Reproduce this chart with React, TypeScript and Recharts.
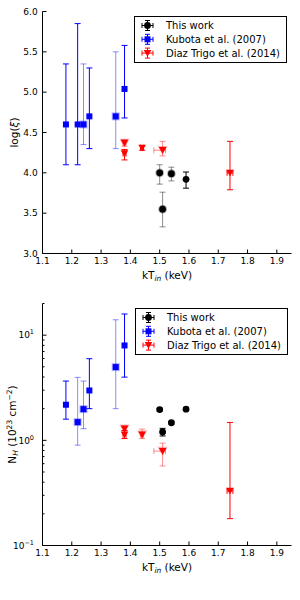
import React from 'react';
import { ScatterChart, Scatter, XAxis, YAxis, ErrorBar, Legend } from 'recharts';

// ---------------- data ----------------
const kTTicks = [1.1, 1.2, 1.3, 1.4, 1.5, 1.6, 1.7, 1.8, 1.9];
const kTDomain = [1.1, 1.95];
const logXiTicks = [3.0, 3.5, 4.0, 4.5, 5.0, 5.5, 6.0];
const logXiDomain = [3, 6];
const nhMajorTicks = [0.1, 1, 10];
const nhMinorTicks = [0.2, 0.3, 0.4, 0.5, 0.6, 0.7, 0.8, 0.9, 2, 3, 4, 5, 6, 7, 8, 9, 20];
const nhDomain = [0.1, 20];

const seriesNames = ['This work', 'Kubota et al. (2007)', 'Diaz Trigo et al. (2014)'];

const thisWorkKT = [1.50, 1.51, 1.54, 1.59];
const thisWorkLogXi = [4.00, 3.55, 3.99, 3.92];
const thisWorkLogXiLow = [3.86, 3.33, 3.90, 3.81];
const thisWorkLogXiHigh = [4.10, 3.76, 4.07, 4.01];
const thisWorkNH = [1.96, 1.20, 1.47, 1.98];
const thisWorkNHLow = [1.90, 1.10, 1.43, 1.93];
const thisWorkNHHigh = [2.02, 1.30, 1.51, 2.03];

const kubotaKT = [1.18, 1.22, 1.24, 1.26, 1.35, 1.38];
const kubotaLogXi = [4.60, 4.60, 4.60, 4.70, 4.70, 5.04];
const kubotaLogXiLow = [4.10, 4.10, 4.35, 4.30, 4.30, 4.68];
const kubotaLogXiHigh = [5.35, 5.85, 5.35, 5.30, 5.50, 5.58];
const kubotaNH = [2.18, 1.49, 1.98, 2.98, 4.97, 7.98];
const kubotaNHLow = [1.59, 0.90, 1.29, 2.00, 2.00, 3.99];
const kubotaNHHigh = [3.66, 3.97, 3.66, 5.97, 14.0, 15.9];

const diazKT = [1.38, 1.38, 1.44, 1.51, 1.74];
const diazKTLow = [1.375, 1.375, 1.435, 1.48, 1.73];
const diazKTHigh = [1.385, 1.385, 1.445, 1.52, 1.75];
const diazLogXi = [4.37, 4.24, 4.31, 4.28, 4.00];
const diazLogXiLow = [4.33, 4.16, 4.28, 4.21, 3.79];
const diazLogXiHigh = [4.41, 4.29, 4.34, 4.39, 4.39];
const diazNH = [1.29, 1.13, 1.13, 0.79, 0.33];
const diazNHLow = [1.24, 1.04, 1.04, 0.57, 0.18];
const diazNHHigh = [1.34, 1.24, 1.28, 0.94, 1.48];

// ---------------- styles ----------------
const FONT = 'DejaVu Sans, sans-serif';
const COLORS = { thisWork: '#000000', kubota: '#0000ff', diaz: '#ff0000' };
const FADED = {
  top: { thisWork: [0, 1, 2], kubota: [2, 4], diaz: [0, 3] },
  bottom: { thisWork: [] as number[], kubota: [1, 2, 4], diaz: [0, 2, 3] },
};
const SPINE = '#000';

type Pt = { x: number; y: number; ey: number[]; ex: number[] };

function buildPoints(xs: number[], ys: number[], yLo: number[], yHi: number[], xLo?: number[], xHi?: number[]): Pt[] {
  return xs.map((x, i) => ({
    x,
    y: ys[i],
    ey: [ys[i] - yLo[i], yHi[i] - ys[i]],
    ex: xLo && xHi ? [x - xLo[i], xHi[i] - x] : [0, 0],
  }));
}

type Kind = 'circle' | 'square' | 'tri';

function Marker({ kind, cx, cy, color, halo }: { kind: Kind; cx: number; cy: number; color: string; halo: boolean }) {
  if (cx == null || cy == null) return null;
  if (kind === 'circle') {
    return (
      <g>
        {halo && <circle cx={cx} cy={cy} r={4.4} fill={color} opacity={0.3} />}
        <circle cx={cx} cy={cy} r={3.4} fill={color} />
      </g>
    );
  }
  if (kind === 'square') {
    return (
      <g>
        {halo && <rect x={cx - 4} y={cy - 4} width={8} height={8} fill={color} opacity={0.3} />}
        <rect x={cx - 3} y={cy - 3} width={6} height={6} fill={color} />
      </g>
    );
  }
  const tri = (s: number) => `${cx - 3.8 * s},${cy - 3.2 * s} ${cx + 3.8 * s},${cy - 3.2 * s} ${cx},${cy + 3.6 * s}`;
  return (
    <g>
      {halo && <polygon points={tri(1.35)} fill={color} opacity={0.3} />}
      <polygon points={tri(1)} fill={color} />
    </g>
  );
}

const shapeFor = (kind: Kind, color: string, halo: boolean) => (p: any) => (
  <Marker kind={kind} cx={p.cx} cy={p.cy} color={color} halo={halo} />
);

function seriesScatters(prefix: string, points: Pt[], faded: number[], kind: Kind, color: string, xErr: boolean) {
  const solid = points.filter((_, i) => !faded.includes(i));
  const fade = points.filter((_, i) => faded.includes(i));
  const parts: [string, Pt[], number][] = [
    ['faded', fade, 0.45],
    ['solid', solid, 1],
  ];
  return parts
    .filter(([, d]) => d.length > 0)
    .map(([tag, d, op]) => (
      <Scatter
        key={prefix + tag}
        name={prefix + tag}
        data={d}
        xAxisId="B"
        yAxisId="L"
        isAnimationActive={false}
        shape={shapeFor(kind, color, tag === 'faded')}
      >
        <ErrorBar dataKey="ey" direction="y" width={3} stroke={color} strokeWidth={1} strokeOpacity={op} />
        {xErr ? <ErrorBar dataKey="ex" direction="x" width={3} stroke={color} strokeWidth={1} strokeOpacity={op} /> : null}
      </Scatter>
    ));
}

function LegendIcon({ cx, cy, kind, color }: { cx: number; cy: number; kind: Kind; color: string }) {
  return (
    <g>
      <line x1={cx - 5.5} y1={cy} x2={cx + 5.5} y2={cy} stroke={color} />
      <line x1={cx - 5.5} y1={cy - 2.5} x2={cx - 5.5} y2={cy + 2.5} stroke={color} />
      <line x1={cx + 5.5} y1={cy - 2.5} x2={cx + 5.5} y2={cy + 2.5} stroke={color} />
      <line x1={cx} y1={cy - 5} x2={cx} y2={cy + 5} stroke={color} />
      <line x1={cx - 2.5} y1={cy - 5} x2={cx + 2.5} y2={cy - 5} stroke={color} />
      <line x1={cx - 2.5} y1={cy + 5} x2={cx + 2.5} y2={cy + 5} stroke={color} />
      <Marker kind={kind} cx={cx} cy={cy} color={color} halo={false} />
    </g>
  );
}

function LegendBox() {
  const kinds: Kind[] = ['circle', 'square', 'tri'];
  const colors = [COLORS.thisWork, COLORS.kubota, COLORS.diaz];
  return (
    <svg width={153} height={47} style={{ display: 'block' }}>
      <rect x={0.5} y={0.5} width={152} height={46} fill="#fff" stroke="#000" strokeWidth={1} />
      {seriesNames.map((n, i) => {
        const cy = 9.5 + i * 13.8;
        return (
          <g key={n}>
            <LegendIcon cx={13.5} cy={cy} kind={kinds[i]} color={colors[i]} />
            <text x={32} y={cy + 3.6} fontSize={10} fontFamily={FONT} fill="#000">
              {n}
            </text>
          </g>
        );
      })}
    </svg>
  );
}

const emptyTick = () => <g />;

const xLabel = (props: any) => {
  const vb = props.viewBox || {};
  const cx = vb.x + vb.width / 2;
  const y = vb.y + 25;
  return (
    <text x={cx} y={y} textAnchor="middle" fontSize={10.5} fontFamily={FONT} fill="#000">
      kT<tspan dy={2.5} fontSize={7.5} fontStyle="italic">in</tspan>
      <tspan dy={-2.5}> (keV)</tspan>
    </text>
  );
};

const logXiLabel = (props: any) => {
  const vb = props.viewBox || {};
  const cy = vb.y + vb.height / 2;
  return (
    <text x={18} y={cy} transform={`rotate(-90, 18, ${cy})`} textAnchor="middle" fontSize={10.5} fontFamily={FONT} fill="#000">
      log(<tspan fontStyle="italic">ξ</tspan>)
    </text>
  );
};

const nhLabel = (props: any) => {
  const vb = props.viewBox || {};
  const cy = vb.y + vb.height / 2;
  return (
    <text x={15.5} y={cy} transform={`rotate(-90, 15.5, ${cy})`} textAnchor="middle" fontSize={10.5} fontFamily={FONT} fill="#000">
      N<tspan dy={2.5} fontSize={7.5} fontStyle="italic">H</tspan>
      <tspan dy={-2.5}> (10</tspan>
      <tspan dy={-4} fontSize={7.5}>23</tspan>
      <tspan dy={4}> cm</tspan>
      <tspan dy={-4} fontSize={7.5}>−2</tspan>
      <tspan dy={4}>)</tspan>
    </text>
  );
};

const isMajor = (v: number) => nhMajorTicks.some((m) => Math.abs(m - v) < 1e-9);

const LogTickLeft = (props: any) => {
  const { x, y, payload } = props;
  const v = payload.value;
  const major = isMajor(v);
  const e = Math.round(Math.log10(v));
  return (
    <g>
      <line x1={x} y1={y} x2={x + (major ? 4 : 2)} y2={y} stroke="#000" strokeWidth={1} />
      {major && (
        <text x={x - 8.5} y={y + 3.3} textAnchor="end" fontSize={9} fontFamily={FONT} fill="#000">
          10<tspan dy={-4} fontSize={6.5}>{e < 0 ? '−' + Math.abs(e) : String(e)}</tspan>
        </text>
      )}
    </g>
  );
};

const LogTickRight = (props: any) => {
  const { x, y, payload } = props;
  const major = isMajor(payload.value);
  return <line x1={x} y1={y} x2={x - (major ? 4 : 2)} y2={y} stroke="#000" strokeWidth={1} />;
};

const tickStyle = { fill: '#000', fontSize: 9, fontFamily: FONT };
const fmt1 = (v: number) => v.toFixed(1);

function SharedX() {
  return null;
}

function TopChart() {
  const tw = buildPoints(thisWorkKT, thisWorkLogXi, thisWorkLogXiLow, thisWorkLogXiHigh);
  const kb = buildPoints(kubotaKT, kubotaLogXi, kubotaLogXiLow, kubotaLogXiHigh);
  const dz = buildPoints(diazKT, diazLogXi, diazLogXiLow, diazLogXiHigh, diazKTLow, diazKTHigh);
  return (
    <ScatterChart width={300} height={300} margin={{ top: 11.5, right: 8.5, bottom: 0, left: 0 }}>
      <XAxis
        xAxisId="B"
        dataKey="x"
        type="number"
        domain={kTDomain}
        ticks={kTTicks}
        interval={0}
        allowDataOverflow
        height={46.5}
        tickSize={-4}
        tickMargin={8.5}
        tick={tickStyle}
        tickFormatter={fmt1}
        axisLine={{ stroke: SPINE }}
        tickLine={{ stroke: '#000' }}
        label={{ content: xLabel }}
      />
      <XAxis
        xAxisId="T"
        orientation="top"
        type="number"
        domain={kTDomain}
        ticks={kTTicks}
        interval={0}
        allowDataOverflow
        height={0}
        tickSize={-4}
        tick={emptyTick}
        axisLine={{ stroke: SPINE }}
        tickLine={{ stroke: '#000' }}
      />
      <YAxis
        yAxisId="L"
        dataKey="y"
        type="number"
        domain={logXiDomain}
        ticks={logXiTicks}
        interval={0}
        allowDataOverflow
        width={42.5}
        tickSize={-4}
        tickMargin={8.8}
        tick={tickStyle}
        tickFormatter={fmt1}
        axisLine={{ stroke: SPINE }}
        tickLine={{ stroke: '#000' }}
        label={{ content: logXiLabel }}
      />
      <YAxis
        yAxisId="R"
        orientation="right"
        type="number"
        domain={logXiDomain}
        ticks={logXiTicks}
        interval={0}
        allowDataOverflow
        width={0}
        tickSize={-4}
        tick={emptyTick}
        axisLine={{ stroke: SPINE }}
        tickLine={{ stroke: '#000' }}
      />
      {seriesScatters('kb', kb, FADED.top.kubota, 'square', COLORS.kubota, false)}
      {seriesScatters('dz', dz, FADED.top.diaz, 'tri', COLORS.diaz, true)}
      {seriesScatters('tw', tw, FADED.top.thisWork, 'circle', COLORS.thisWork, false)}
      <Legend
        layout="vertical"
        align="center"
        verticalAlign="middle"
        content={() => <LegendBox />}
        wrapperStyle={{ left: 134, top: 16, width: 153, height: 47 }}
      />
    </ScatterChart>
  );
}

function BottomChart() {
  const tw = buildPoints(thisWorkKT, thisWorkNH, thisWorkNHLow, thisWorkNHHigh);
  const kb = buildPoints(kubotaKT, kubotaNH, kubotaNHLow, kubotaNHHigh);
  const dz = buildPoints(diazKT, diazNH, diazNHLow, diazNHHigh, diazKTLow, diazKTHigh);
  const allNhTicks = [...nhMajorTicks, ...nhMinorTicks].sort((a, b) => a - b);
  return (
    <ScatterChart width={300} height={300} margin={{ top: 3.5, right: 8.5, bottom: 0, left: 0 }}>
      <XAxis
        xAxisId="B"
        dataKey="x"
        type="number"
        domain={kTDomain}
        ticks={kTTicks}
        interval={0}
        allowDataOverflow
        height={54.5}
        tickSize={-4}
        tickMargin={8.5}
        tick={tickStyle}
        tickFormatter={fmt1}
        axisLine={{ stroke: SPINE }}
        tickLine={{ stroke: '#000' }}
        label={{ content: xLabel }}
      />
      <XAxis
        xAxisId="T"
        orientation="top"
        type="number"
        domain={kTDomain}
        ticks={kTTicks}
        interval={0}
        allowDataOverflow
        height={0}
        tickSize={-4}
        tick={emptyTick}
        axisLine={{ stroke: SPINE }}
        tickLine={{ stroke: '#000' }}
      />
      <YAxis
        yAxisId="L"
        dataKey="y"
        type="number"
        scale="log"
        domain={nhDomain}
        ticks={allNhTicks}
        interval={0}
        allowDataOverflow
        width={42.5}
        tickSize={0}
        tickMargin={0}
        tickLine={false}
        tick={<LogTickLeft />}
        axisLine={{ stroke: SPINE }}
        label={{ content: nhLabel }}
      />
      <YAxis
        yAxisId="R"
        orientation="right"
        type="number"
        scale="log"
        domain={nhDomain}
        ticks={allNhTicks}
        interval={0}
        allowDataOverflow
        width={0}
        tickSize={0}
        tickMargin={0}
        tickLine={false}
        tick={<LogTickRight />}
        axisLine={{ stroke: SPINE }}
      />
      {seriesScatters('kb', kb, FADED.bottom.kubota, 'square', COLORS.kubota, false)}
      {seriesScatters('dz', dz, FADED.bottom.diaz, 'tri', COLORS.diaz, true)}
      {seriesScatters('tw', tw, FADED.bottom.thisWork, 'circle', COLORS.thisWork, false)}
      <Legend
        layout="vertical"
        align="center"
        verticalAlign="middle"
        content={() => <LegendBox />}
        wrapperStyle={{ left: 134.5, top: 7.5, width: 153, height: 47 }}
      />
    </ScatterChart>
  );
}

export default function App() {
  return (
    <div style={{ position: 'absolute', left: 0, top: 0, width: 300, height: 600, background: '#fff' }}>
      <TopChart />
      <BottomChart />
    </div>
  );
}
